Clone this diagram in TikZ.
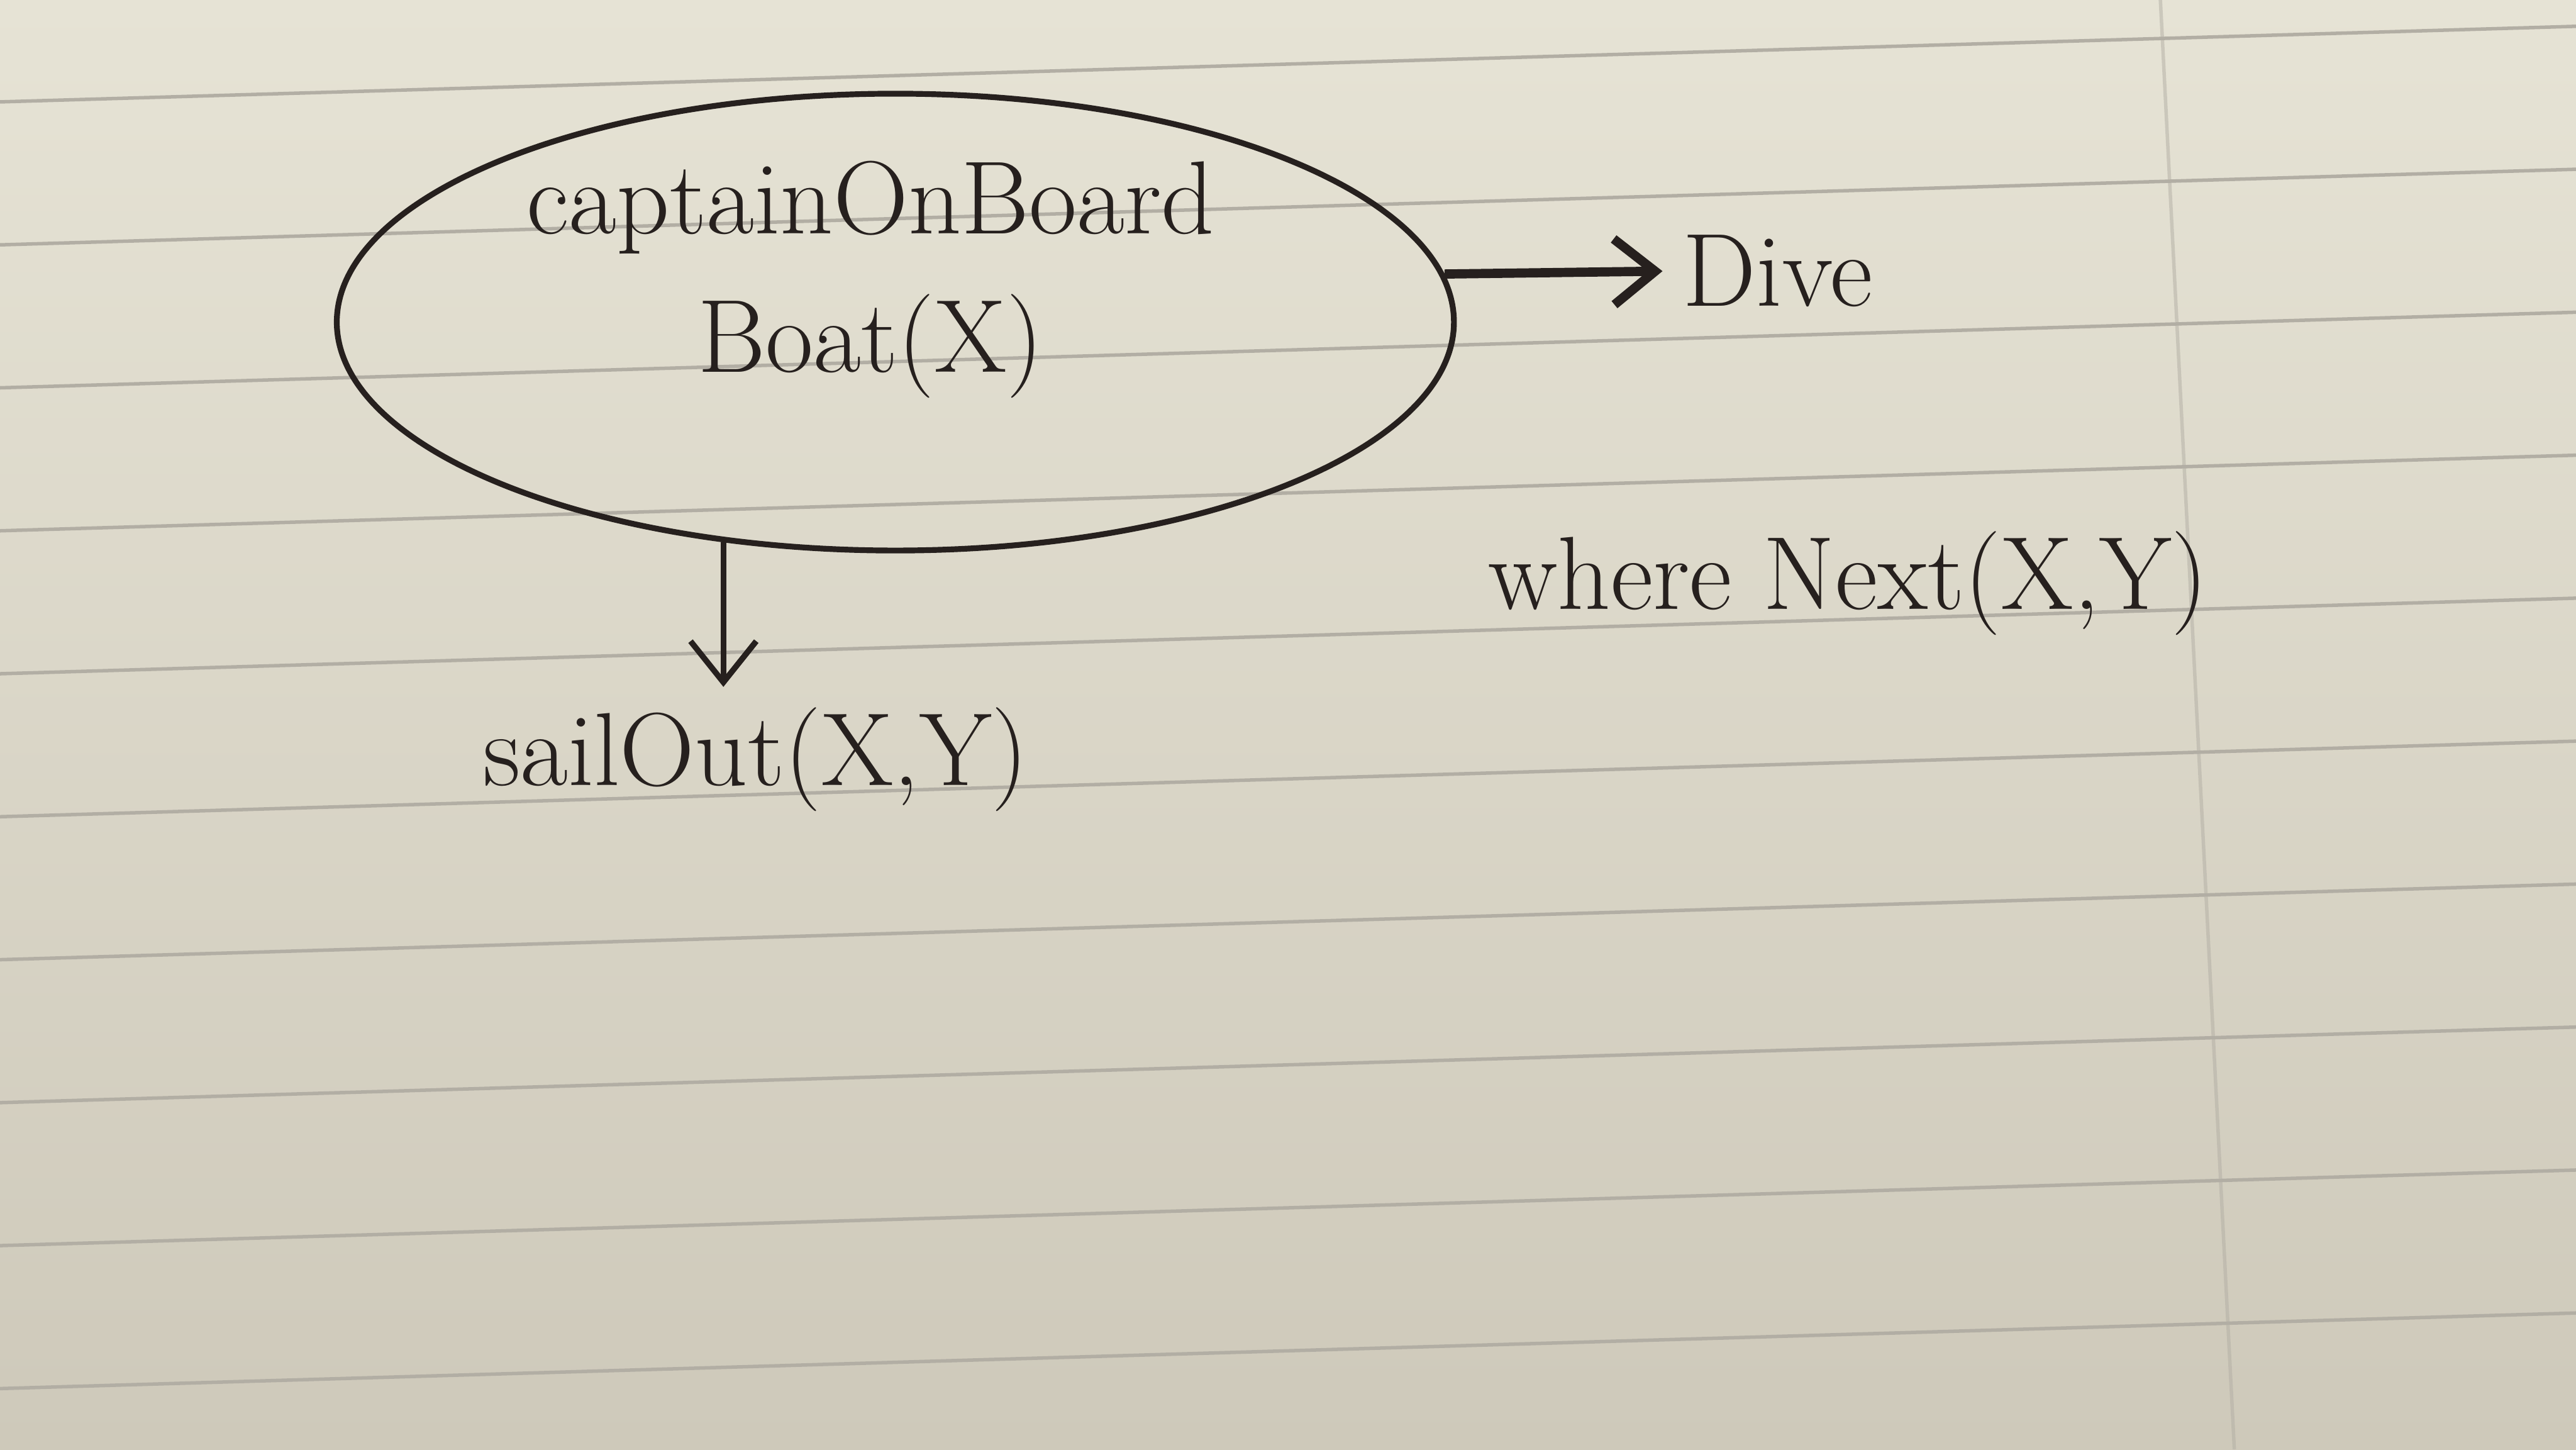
\documentclass[tikz,border=0pt]{standalone}
\usepackage{xcolor}
\usepackage{tikz}
\usetikzlibrary{arrows.meta,positioning,shapes.geometric}
\definecolor{paper}{RGB}{230,227,213}
\definecolor{paperdark}{RGB}{206,201,186}
\definecolor{ink}{RGB}{38,32,30}
\definecolor{rule}{RGB}{178,174,164}

\begin{document}
\begin{tikzpicture}[every node/.style={text=ink,font=\fontsize{18}{24}\selectfont},
		arr/.style={draw=ink,line width=1pt,-{Straight Barb[length=2.5mm,width=4mm]}},
		ruleline/.style={draw=rule,line width=0.6pt}]
		\shade[top color=paper,bottom color=paperdark] (0,0) rectangle (15.68,8.82);
		\begin{scope}
			\clip (0,0) rectangle (15.68,8.82);
			\foreach \k in {-2,...,7}
				\draw[ruleline] (0,{6.46-0.87*\k}) -- (15.68,{6.92-0.87*\k});
			\draw[ruleline,draw opacity=0.5] (13.15,8.82) -- (13.6,0);
		\end{scope}

		\node[ellipse,draw=ink,line width=1pt,minimum width=6.8cm,minimum height=2.78cm] (boat) at (5.45,6.86) {};
		\node[align=center] (boattext) at (5.3,7.12) {captainOnBoard\\Boat(X)};
		\node (dive) at (10.82,7.17) {Dive};
		\node (sailout) at (4.6,4.2) {sailOut(X,Y)};
		\node (where) at (11.25,5.27) {where Next(X,Y)};

		\draw[arr,line width=1.6pt] (boat.5) -- (dive.west);
		\draw[arr] (boat.-128) -- (boat.-128 |- sailout.north);
	\end{tikzpicture}
\end{document}
